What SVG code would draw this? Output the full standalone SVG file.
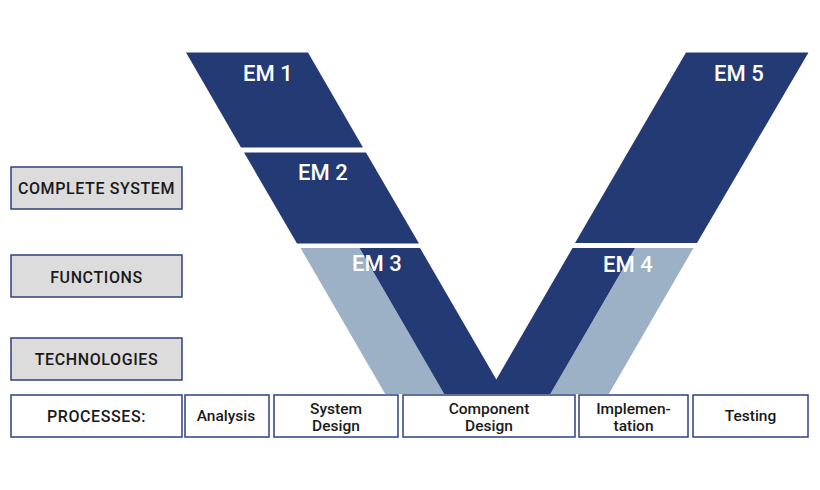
<svg xmlns="http://www.w3.org/2000/svg" width="820" height="490" viewBox="0 0 820 490">
<style>
.dark{fill:#243a74}
.light{fill:#9db1c6}
.em{font-family:Roboto,"Liberation Sans",sans-serif;font-size:22px;font-weight:500;fill:#ffffff}
.lvl{fill:#dcdcdc;stroke:#2e4080;stroke-width:1.5}
.proc{fill:#ffffff;stroke:#2e4080;stroke-width:1.5}
.lt{font-family:Roboto,"Liberation Sans",sans-serif;font-size:16px;font-weight:500;fill:#1a1a1a;text-anchor:middle;letter-spacing:0.6px}
.pt{font-family:Roboto,"Liberation Sans",sans-serif;font-size:15.5px;font-weight:500;fill:#1a1a1a;text-anchor:middle}
</style>
<rect width="820" height="490" fill="#ffffff"/>
<g id="v-shape">
  <g id="em1"><polygon class="dark" points="186,52.5 308,52.5 363,147.5 241,147.5"/><text class="em" x="243" y="81">EM 1</text></g>
  <g id="em2"><polygon class="dark" points="244,152.5 366,152.5 419,243.5 297,243.5"/><text class="em" x="298" y="180">EM 2</text></g>
  <g id="em3-em4">
    <polygon class="light" points="300.5,248 359.5,248 444.2,394 385.2,394"/>
    <polygon class="light" points="635,248 693.5,248 608.8,394 550.3,394"/>
    <polygon class="dark" points="359.5,248 420,248 496.3,379.5 572.5,248 635,248 550.3,394 444.2,394"/>
    <text class="em" x="352" y="271">EM 3</text>
    <text class="em" x="603" y="272">EM 4</text>
  </g>
  <g id="em5"><polygon class="dark" points="686,52.5 808.5,52.5 697,243 575,243"/><text class="em" x="714" y="81">EM 5</text></g>
</g>
<g id="levels">
  <g id="complete-system"><rect class="lvl" x="11" y="167" width="171" height="42"/><text class="lt" x="96.5" y="193.5">COMPLETE SYSTEM</text></g>
  <g id="functions"><rect class="lvl" x="11" y="255" width="171" height="42"/><text class="lt" x="96.5" y="282.5">FUNCTIONS</text></g>
  <g id="technologies"><rect class="lvl" x="11" y="338" width="171" height="42"/><text class="lt" x="96.5" y="364.5">TECHNOLOGIES</text></g>
</g>
<g id="processes">
  <g id="processes-label"><rect class="proc" x="11" y="395" width="171" height="42"/><text class="lt" x="96.5" y="421.5">PROCESSES:</text></g>
  <g id="analysis"><rect class="proc" x="185" y="395" width="84" height="42"/><text class="pt" x="226" y="421">Analysis</text></g>
  <g id="system-design"><rect class="proc" x="274" y="395" width="124" height="42"/><text class="pt" x="336" y="413.5">System</text><text class="pt" x="336" y="430.5">Design</text></g>
  <g id="component-design"><rect class="proc" x="403" y="395" width="172" height="42"/><text class="pt" x="489" y="413.5">Component</text><text class="pt" x="489" y="430.5">Design</text></g>
  <g id="implementation"><rect class="proc" x="579" y="395" width="109" height="42"/><text class="pt" x="633.5" y="413.5">Implemen-</text><text class="pt" x="633.5" y="430.5">tation</text></g>
  <g id="testing"><rect class="proc" x="693" y="395" width="115" height="42"/><text class="pt" x="750.5" y="421">Testing</text></g>
</g>
<g id="connectors"/>
</svg>
